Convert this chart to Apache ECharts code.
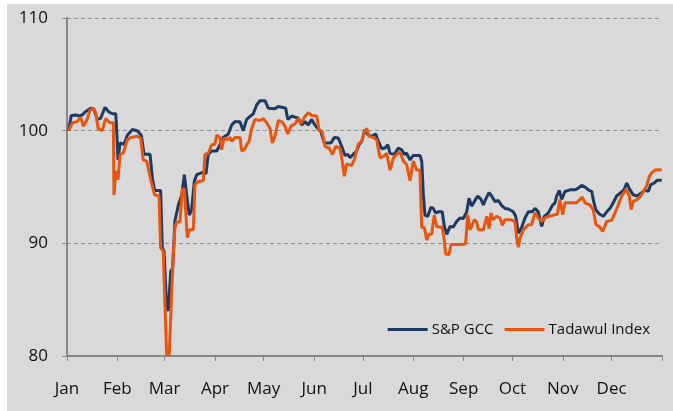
<!DOCTYPE html>
<html>
<head>
<meta charset="utf-8">
<script src="https://cdn.jsdelivr.net/npm/echarts@6/dist/echarts.min.js"></script>
<style>
  html, body { margin: 0; padding: 0; background: #ffffff; }
  #bg { position: absolute; left: 7px; top: 4px; width: 666px; height: 407px; background: #d9d9d9; }
  #chart { position: absolute; left: 0; top: 0; width: 673px; height: 411px; }
</style>
</head>
<body>
<div id="bg"></div>
<div id="chart"></div>
<script>
// month ticks (day of year, 2020)
const monthLabels = ['Jan', 'Feb', 'Mar', 'Apr', 'May', 'Jun', 'Jul', 'Aug', 'Sep', 'Oct', 'Nov', 'Dec'];
const monthStarts = [0, 31, 60, 91, 121, 152, 182, 213, 244, 274, 305, 335];
const yearEnd = 366;
const yTicks = [80, 90, 100, 110];

// [day of year, index level]
const sapGcc = [
  [1, 100.0], [2.6, 101.35], [5.4, 101.4], [7.4, 101.3], [9.4, 101.4], [11.5, 101.7], [14.6, 102.0],
  [16.6, 101.9], [18.6, 101.0], [20.7, 101.1], [23.4, 102.07], [25.8, 101.66], [27.9, 101.5],
  [30.0, 101.5], [30.6, 99.9], [31.4, 97.4], [32.6, 98.9], [35.1, 98.8], [37.1, 99.6], [40.2, 100.1],
  [43.2, 100.0], [45.7, 99.6], [47.4, 97.9], [51.1, 97.9], [52.5, 95.8], [53.9, 94.7], [57.6, 94.7],
  [58.6, 89.6], [59.7, 89.3], [61.3, 84.3], [62.3, 84.0], [63.8, 87.5], [65.0, 87.8], [66.4, 92.0],
  [68.5, 93.4], [70.6, 94.3], [72.2, 96.1], [73.6, 94.3], [75.2, 92.5], [76.7, 93.0], [78.3, 95.5],
  [79.8, 96.1], [83.5, 96.3], [85.5, 96.2], [86.9, 97.9], [89.0, 98.2], [92.1, 98.2], [94.1, 98.75],
  [96.1, 99.4], [99.2, 99.7], [101.3, 100.5], [103.3, 100.8], [106.4, 100.8], [108.4, 100.0],
  [110.5, 101.0], [112.1, 101.2], [114.6, 101.5], [116.7, 102.3], [118.7, 102.66], [121.8, 102.66],
  [123.8, 102.0], [127.9, 101.95], [130.0, 102.15], [132.1, 102.07], [134.5, 102.0], [135.8, 101.0],
  [138.2, 101.3], [140.2, 101.2], [142.3, 101.1], [144.4, 100.5], [146.4, 100.8], [148.4, 100.5],
  [150.5, 101.0], [152.5, 100.5], [154.2, 100.2], [156.2, 99.9], [158.3, 98.9], [162.4, 98.9],
  [164.4, 99.4], [166.9, 99.35], [169.0, 98.6], [171.0, 97.8], [172.7, 97.9], [174.1, 97.6],
  [176.1, 97.9], [178.2, 98.2], [179.6, 98.75], [181.3, 99.05], [183.3, 100.1], [185.3, 99.6],
  [187.4, 99.5], [189.9, 99.7], [191.5, 99.05], [193.6, 98.4], [195.6, 98.46], [197.3, 98.75],
  [198.7, 98.0], [201.3, 97.9], [203.8, 98.46], [205.9, 98.3], [207.5, 97.9], [208.9, 98.0],
  [211.0, 97.4], [213.0, 97.8], [217.1, 97.8], [218.2, 97.3], [219.2, 94.3], [220.2, 92.5],
  [221.9, 92.4], [223.9, 93.2], [225.3, 93.1], [226.8, 92.7], [228.4, 92.8], [230.8, 92.8],
  [232.1, 91.5], [233.6, 90.8], [235.6, 91.5], [237.6, 91.45], [239.7, 91.95], [241.7, 92.25],
  [243.8, 92.2], [245.9, 92.8], [247.3, 94.0], [248.9, 93.3], [250.5, 93.7], [252.6, 94.2],
  [254.7, 93.9], [256.1, 93.4], [257.5, 93.9], [259.6, 94.5], [261.2, 94.2], [263.3, 93.7],
  [265.3, 93.8], [267.4, 93.35], [269.4, 93.1], [271.5, 93.05], [274.5, 92.8], [276.0, 92.4],
  [277.6, 90.9], [279.7, 91.4], [281.7, 92.25], [283.8, 92.8], [286.2, 92.8], [287.9, 93.1],
  [289.9, 92.8], [292.0, 91.5], [293.6, 92.4], [296.1, 92.7], [298.5, 93.35], [300.2, 93.6],
  [301.2, 94.2], [302.8, 94.7], [304.3, 93.9], [306.3, 94.6], [309.4, 94.75], [312.5, 94.75],
  [314.5, 94.9], [316.6, 95.15], [318.6, 95.0], [320.7, 94.75], [322.8, 94.6], [323.7, 93.9],
  [325.2, 93.0], [327.4, 92.6], [329.9, 92.4], [332.0, 92.8], [334.0, 93.1], [336.0, 93.6],
  [338.1, 94.2], [340.6, 94.5], [342.6, 94.75], [344.3, 95.35], [346.3, 94.75], [348.3, 94.3],
  [350.8, 94.2], [353.5, 94.5], [355.5, 94.75], [357.6, 94.6], [359.0, 95.2], [361.1, 95.35],
  [363.1, 95.6], [365.8, 95.6]
];

const tadawul = [
  [1, 100.0], [3.3, 100.7], [6.3, 100.8], [8.4, 101.2], [10.0, 100.4], [12.1, 100.9], [14.1, 101.8],
  [16.2, 102.0], [17.7, 101.6], [19.1, 100.2], [21.7, 100.0], [23.8, 101.07], [26.4, 100.7],
  [28.5, 100.7], [28.9, 94.3], [30.0, 96.4], [31.4, 95.65], [32.6, 97.9], [34.6, 98.0], [37.1, 99.2],
  [39.2, 99.4], [43.2, 99.5], [45.3, 99.35], [46.9, 97.4], [49.0, 97.3], [51.9, 95.4], [53.9, 94.3],
  [56.6, 94.2], [57.6, 89.6], [59.2, 89.3], [60.3, 84.3], [61.3, 80.1], [62.9, 80.1], [64.4, 85.7],
  [65.4, 89.0], [66.4, 91.4], [67.5, 91.9], [69.5, 91.9], [70.9, 94.8], [72.2, 94.8], [74.0, 90.5],
  [75.2, 91.2], [77.7, 91.2], [78.7, 95.2], [80.8, 95.5], [83.8, 95.55], [84.9, 97.9], [86.9, 98.0],
  [89.0, 98.75], [91.0, 98.8], [92.1, 99.6], [94.1, 99.4], [95.2, 98.3], [96.6, 99.35], [98.6, 99.2],
  [100.3, 99.4], [101.3, 99.05], [103.3, 99.4], [106.4, 99.4], [107.5, 98.2], [109.5, 98.4],
  [110.5, 98.75], [112.0, 99.05], [113.6, 100.2], [115.6, 101.0], [118.7, 100.9], [120.7, 101.07],
  [122.8, 100.7], [124.9, 100.2], [126.3, 98.9], [127.9, 99.5], [130.0, 100.9], [132.1, 100.8],
  [134.1, 100.4], [135.8, 99.7], [137.8, 100.4], [140.2, 100.6], [142.3, 101.1], [143.9, 100.6],
  [146.0, 101.2], [148.4, 101.6], [150.5, 101.35], [153.6, 101.3], [155.0, 100.1], [157.0, 99.9],
  [158.7, 98.6], [161.2, 98.46], [163.2, 97.9], [165.3, 98.6], [167.9, 98.46], [169.3, 97.3],
  [170.6, 95.95], [172.0, 97.05], [175.1, 96.9], [176.7, 97.4], [179.2, 98.8], [181.3, 99.05],
  [182.9, 99.9], [184.4, 100.2], [185.8, 99.5], [188.4, 99.4], [190.5, 99.2], [192.5, 97.6],
  [194.6, 97.7], [196.7, 98.0], [198.7, 96.5], [200.8, 97.6], [202.8, 97.9], [204.8, 98.1],
  [206.9, 97.3], [208.9, 97.0], [211.0, 95.55], [213.0, 97.3], [215.1, 96.5], [217.1, 96.5],
  [218.2, 91.4], [219.8, 91.4], [221.3, 90.3], [222.7, 90.8], [224.3, 90.8], [225.9, 92.5],
  [227.4, 91.5], [230.8, 91.4], [232.1, 90.3], [232.9, 89.05], [235.0, 89.0], [236.2, 89.9],
  [241.7, 89.9], [245.2, 89.95], [246.5, 92.55], [247.9, 91.2], [249.3, 91.65], [250.5, 92.1],
  [252.0, 91.9], [253.0, 91.2], [256.1, 91.2], [258.2, 92.4], [259.6, 91.3], [260.8, 92.7],
  [262.2, 92.1], [264.3, 92.4], [266.3, 92.25], [267.8, 91.6], [269.4, 92.1], [272.5, 92.1],
  [275.6, 91.95], [276.6, 90.45], [277.6, 89.65], [278.6, 90.45], [280.7, 91.2], [283.8, 91.65],
  [285.8, 91.65], [287.9, 92.7], [289.9, 92.25], [292.0, 91.95], [294.0, 92.25], [296.5, 92.4],
  [298.1, 92.45], [300.2, 92.55], [301.6, 92.55], [303.2, 93.9], [304.9, 92.55], [306.3, 93.6],
  [313.5, 93.6], [316.9, 94.1], [318.6, 93.6], [321.7, 93.4], [323.7, 93.0], [325.4, 91.65],
  [327.4, 91.5], [329.5, 91.06], [330.3, 90.9], [332.0, 91.95], [335.0, 92.04], [337.1, 92.7],
  [339.1, 93.4], [341.2, 94.2], [343.9, 94.8], [345.9, 94.2], [347.0, 93.0], [348.3, 93.7],
  [350.8, 93.9], [352.9, 94.2], [354.5, 94.6], [356.6, 95.1], [358.2, 95.95], [359.7, 96.25],
  [361.7, 96.5], [365.8, 96.54]
];

const chart = echarts.init(document.getElementById('chart'));
const axisGrey = '#868686';
const textColor = '#111111';
const font = 'Open Sans';

chart.setOption({
  animation: false,
  backgroundColor: 'transparent',
  grid: { left: 67, right: 11, top: 18, bottom: 55 },
  legend: {
    right: 18,
    top: 317,
    icon: 'rect',
    itemWidth: 40,
    itemHeight: 3,
    itemGap: 11,
    textStyle: { fontFamily: font, fontSize: 15, color: textColor, padding: [0, 0, 0, -1] },
    data: ['S&P GCC', 'Tadawul Index']
  },
  xAxis: {
    type: 'value',
    min: 0,
    max: yearEnd,
    axisLine: { show: true, lineStyle: { color: axisGrey, width: 2 } },
    axisTick: { show: true, length: 5, customValues: monthStarts.concat([yearEnd]), lineStyle: { color: axisGrey, width: 1 } },
    axisLabel: {
      customValues: monthStarts,
      margin: 25,
      fontFamily: font,
      fontSize: 17,
      color: textColor,
      formatter: v => monthLabels[monthStarts.indexOf(v)]
    },
    splitLine: { show: false }
  },
  yAxis: {
    type: 'value',
    min: yTicks[0],
    max: yTicks[yTicks.length - 1],
    interval: 10,
    axisLine: { show: true, lineStyle: { color: axisGrey, width: 2 } },
    axisTick: { show: true, length: 5, lineStyle: { color: axisGrey, width: 1 } },
    axisLabel: { margin: 19, fontFamily: font, fontSize: 17, color: textColor },
    splitLine: { show: true, lineStyle: { color: '#8f8f8f', type: [4, 3], width: 1 } }
  },
  series: [
    {
      name: 'S&P GCC',
      type: 'line',
      data: sapGcc,
      showSymbol: false,
      lineStyle: { color: '#1c3a63', width: 3 },
      itemStyle: { color: '#1c3a63' }
    },
    {
      name: 'Tadawul Index',
      type: 'line',
      data: tadawul,
      showSymbol: false,
      lineStyle: { color: '#e8550e', width: 3 },
      itemStyle: { color: '#e8550e' }
    }
  ]
});
</script>
</body>
</html>
